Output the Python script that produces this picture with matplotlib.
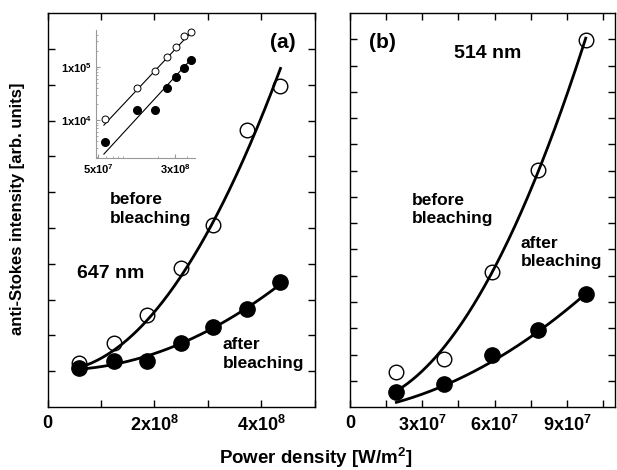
import numpy as np
import matplotlib.pyplot as plt

plt.rcParams['font.family'] = ['Liberation Sans', 'DejaVu Sans']
plt.rcParams['font.weight'] = 'bold'
plt.rcParams['mathtext.default'] = 'regular'

# panel (a), 647 nm
x_a = np.array([0.59, 1.25, 1.87, 2.50, 3.10, 3.73, 4.35]) * 1e8
before_a = [1.22, 1.78, 2.57, 3.87, 5.08, 7.74, 8.97]
after_a = [1.08, 1.28, 1.29, 1.78, 2.23, 2.73, 3.48]
# fitted curves
fit_before_a_x = np.array([0.61, 1.25, 1.87, 2.50, 3.10, 3.73, 4.36]) * 1e8
fit_before_a_y = [1.15, 1.54, 2.43, 3.69, 5.05, 7.32, 9.37]
fit_after_a_x = np.array([0.59, 1.25, 1.87, 2.50, 3.10, 3.73, 4.35]) * 1e8
fit_after_a_y = [1.03, 1.22, 1.45, 1.78, 2.20, 2.71, 3.46]

# panel (b), 514 nm
x_b = np.array([1.93, 3.92, 5.88, 7.82, 9.78]) * 1e7
before_b = [1.34, 1.81, 5.13, 9.04, 13.97]
after_b = [0.58, 0.87, 1.97, 2.95, 4.29]
fit_before_b_x = np.array([2.00, 3.92, 5.88, 7.82, 9.78]) * 1e7
fit_before_b_y = [0.71, 2.16, 5.14, 9.07, 14.0]
fit_after_b_x = np.array([1.93, 3.92, 5.88, 7.82, 9.78]) * 1e7
fit_after_b_y = [0.18, 0.84, 1.66, 2.95, 4.29]

# inset (log-log of panel a)
inset_before = [1.03e4, 3.94e4, 8.41e4, 1.54e5, 2.31e5, 3.77e5, 4.42e5]
inset_after = [3.92e3, 1.54e4, 1.54e4, 3.94e4, 6.49e4, 9.33e4, 1.34e5]
inset_fit_x = [5.71e7, 4.36e8]
inset_fit_before = [8.05e3, 4.42e5]
inset_fit_after = [2.30e3, 1.38e5]

xticks_a = [0, 1e8, 2e8, 3e8, 4e8, 5e8]
xlabels_a = ['0', '', '2x10$^{8}$', '', '4x10$^{8}$', '']
xticks_b = [0, 1.5e7, 3e7, 4.5e7, 6e7, 7.5e7, 9e7, 10.5e7]
xlabels_b = ['0', '', '3x10$^{7}$', '', '6x10$^{7}$', '', '9x10$^{7}$', '']


def smooth(xs, ys, deg=2):
    c = np.polyfit(xs, ys, deg)
    xx = np.linspace(min(xs), max(xs), 200)
    return xx, np.polyval(c, xx)


def style(ax, xticks, xlabels, ymax):
    ax.set_xticks(xticks, xlabels)
    ax.set_yticks(np.arange(1, int(ymax) + 1))
    ax.set_yticklabels([])
    ax.tick_params(direction='in', top=True, right=True, length=5, width=1,
                   labelsize=13, pad=6)
    for s in ax.spines.values():
        s.set_linewidth(1)


fig = plt.figure(figsize=(6.17, 4.70), dpi=100)

# (a)
ax1 = fig.add_axes([0.077, 0.134, 0.433, 0.838])
xx, yy = smooth(fit_before_a_x, fit_before_a_y)
ax1.plot(xx, yy, 'k-', lw=2)
xx, yy = smooth(fit_after_a_x, fit_after_a_y)
ax1.plot(xx, yy, 'k-', lw=2)
ax1.plot(x_a, before_a, 'o', ms=10.5, mfc='none', mec='k', mew=1)
ax1.plot(x_a, after_a, 'o', ms=11, mfc='k', mec='k')
ax1.set_xlim(0, 5e8)
ax1.set_ylim(0, 11)
style(ax1, xticks_a, xlabels_a, 10)
ax1.text(0.881, 0.925, '(a)', transform=ax1.transAxes, fontsize=15,
         ha='center', va='center')
ax1.text(0.235, 0.503, 'before\nbleaching', transform=ax1.transAxes,
         fontsize=12.5, ha='left', va='center', linespacing=1.3)
ax1.text(0.11, 0.34, '647 nm', transform=ax1.transAxes, fontsize=14,
         ha='left', va='center')
ax1.text(0.655, 0.1345, 'after\nbleaching', transform=ax1.transAxes,
         fontsize=12.5, ha='left', va='center', linespacing=1.3)

# (b)
ax2 = fig.add_axes([0.567, 0.134, 0.430, 0.838])
xx, yy = smooth(fit_before_b_x, fit_before_b_y)
ax2.plot(xx, yy, 'k-', lw=2)
xx, yy = smooth(fit_after_b_x, fit_after_b_y)
ax2.plot(xx, yy, 'k-', lw=2)
ax2.plot(x_b, before_b, 'o', ms=10.5, mfc='none', mec='k', mew=1)
ax2.plot(x_b, after_b, 'o', ms=11, mfc='k', mec='k')
ax2.set_xlim(0, 11e7)
ax2.set_ylim(0, 15)
style(ax2, xticks_b, xlabels_b, 14)
ax2.text(0.124, 0.925, '(b)', transform=ax2.transAxes, fontsize=15,
         ha='center', va='center')
ax2.text(0.52, 0.898, '514 nm', transform=ax2.transAxes, fontsize=14,
         ha='center', va='center')
ax2.text(0.233, 0.501, 'before\nbleaching', transform=ax2.transAxes,
         fontsize=12.5, ha='left', va='center', linespacing=1.3)
ax2.text(0.643, 0.392, 'after\nbleaching', transform=ax2.transAxes,
         fontsize=12.5, ha='left', va='center', linespacing=1.3)

# inset
axi = fig.add_axes([0.1556, 0.6638, 0.1605, 0.2723])
axi.set_facecolor('none')
axi.plot(inset_fit_x, inset_fit_before, 'k-', lw=0.8)
axi.plot(inset_fit_x, inset_fit_after, 'k-', lw=0.8)
axi.plot(x_a, inset_before, 'o', ms=5, mfc='white', mec='k', mew=0.7,
         clip_on=False)
axi.plot(x_a, inset_after, 'o', ms=5.5, mfc='k', mec='k', clip_on=False)
axi.set_xscale('log')
axi.set_yscale('log')
axi.set_xlim(4.75e7, 4.79e8)
axi.set_ylim(1.94e3, 4.9e5)
axi.spines['top'].set_visible(False)
axi.spines['right'].set_visible(False)
for s in ['left', 'bottom']:
    axi.spines[s].set_color('#999999')
    axi.spines[s].set_linewidth(0.8)
axi.set_xticks([5e7, 3e8], ['5x10$^{7}$', '3x10$^{8}$'])
axi.set_yticks([1e4, 1e5], ['1x10$^{4}$', '1x10$^{5}$'])
axi.xaxis.set_minor_formatter(plt.NullFormatter())
axi.yaxis.set_minor_formatter(plt.NullFormatter())
axi.tick_params(which='both', direction='in', color='#999999', labelsize=8,
                pad=3)
axi.tick_params(which='major', length=3)
axi.tick_params(which='minor', length=1.5)

fig.text(0.028, 1 - 209 / 470, 'anti-Stokes intensity [arb. units]',
         rotation=90, fontsize=12, ha='center', va='center')
fig.text(0.512, 1 - 458 / 470, 'Power density [W/m$^{2}$]', fontsize=13.5,
         ha='center', va='center')

fig.savefig('out.png', dpi=100)
